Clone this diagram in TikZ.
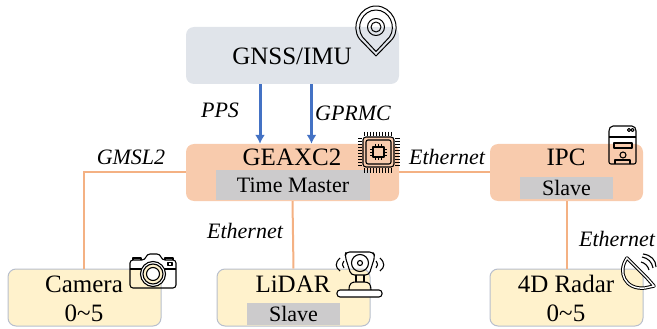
\documentclass[tikz,border=0pt]{standalone}
\usepackage{fontspec}
\setmainfont{Liberation Serif}
\usetikzlibrary{arrows.meta}
\definecolor{gnssfill}{HTML}{E0E4EA}
\definecolor{mainfill}{HTML}{F8CBAD}
\definecolor{sensorfill}{HTML}{FFF2CC}
\definecolor{sensorline}{HTML}{B8BFCC}
\definecolor{tagfill}{HTML}{CCCBCC}
\definecolor{linkline}{HTML}{F4B183}
\definecolor{syncline}{HTML}{4472C4}
\tikzset{
	box/.style={rounded corners=8pt, minimum width=#1, minimum height=57pt, inner sep=0pt},
	gnssbox/.style={box=213pt, fill=gnssfill},
	mainbox/.style={box=#1, fill=mainfill},
	sensorbox/.style={box=153pt, fill=sensorfill, draw=sensorline, line width=1pt},
	tagbox/.style={fill=tagfill, inner sep=0pt, font=\fontsize{22}{26}\selectfont},
	title/.style={inner sep=0pt, font=\fontsize{25}{30}\selectfont},
	busname/.style={inner sep=0pt, font=\fontsize{22}{26}\selectfont\itshape},
	link/.style={draw=linkline, line width=2pt},
	sync/.style={draw=syncline, line width=3pt, -{Latex[width=10pt,length=9pt]}},
	icon/.style={draw=black, line width=1.1pt, line join=round}
}
\begin{document}
\begin{tikzpicture}[x=1pt, y=-1pt]
	%%%%% START %%%%%
	\useasboundingbox (0, 0) rectangle (657, 329);

	\coordinate (camcorner) at (84, 172);

	\node[gnssbox] (gnss) at (292.5, 55.5) {};
	\node[mainbox=213pt] (geaxc) at (292.5, 172.5) {};
	\node[mainbox=153pt] (ipc) at (566.5, 172.5) {};
	\node[sensorbox] (camera) at (84.5, 297.5) {};
	\node[sensorbox] (lidar) at (293.5, 297.5) {};
	\node[sensorbox] (radar) at (566.5, 297.5) {};

	\node[tagbox, minimum width=154pt, minimum height=30pt] (master) at (293, 185) {Time Master};
	\node[tagbox, minimum width=93pt, minimum height=22pt] (ipcslave) at (566.5, 188) {Slave};
	\node[tagbox, minimum width=93pt, minimum height=22pt] (lidarslave) at (293.5, 314) {Slave};

	\node[title] (gnsstext) at (292, 56) {GNSS/IMU};
	\node[title] (geaxctext) at (292, 157) {GEAXC2};
	\node[title] (ipctext) at (566, 157) {IPC};
	\node[title] (cameratext) at (84, 284) {Camera};
	\node[title] (cameranum) at (84, 313) {0\textasciitilde5};
	\node[title] (lidartext) at (293, 284) {LiDAR};
	\node[title] (radartext) at (566, 284) {4D Radar};
	\node[title] (radarnum) at (566, 313) {0\textasciitilde5};

	% connectors
	\draw[link] (camera.north -| camcorner) -- (camcorner) -- (geaxc.west |- camcorner);
	\draw[link] (geaxc.east |- camcorner) -- (ipc.west |- camcorner);
	\draw[link] (geaxc.south) -- (lidar.north);
	\draw[link] (ipc.south) -- (radar.north);
	\draw[sync] ([xshift=-32.5pt]gnss.south) -- ([xshift=-32.5pt]geaxc.north);
	\draw[sync] ([xshift=19pt]gnss.south) -- ([xshift=19pt]geaxc.north);

	\node[busname] (pps) at (220, 110) {PPS};
	\node[busname] (gprmc) at (353, 113) {GPRMC};
	\node[busname] (gmsl) at (131, 157) {GMSL2};
	\node[busname] (ethmain) at (447, 157) {Ethernet};
	\node[busname] (ethlidar) at (245, 231) {Ethernet};
	\node[busname] (ethradar) at (617, 239) {Ethernet};

	% pin on the gnss box
	\draw[icon, line width=1pt] (376, 56) -- (359.5, 39) .. controls (350, 26) and (360, 6) .. (376, 6) .. controls (392, 6) and (402, 26) .. (392.5, 39) -- cycle;
	\draw[icon, line width=1pt] (376, 51.5) -- (362.5, 37) .. controls (355, 26) and (363, 10) .. (376, 10) .. controls (389, 10) and (397, 26) .. (389.5, 37) -- cycle;
	\draw[icon, line width=1pt] (376, 27) circle (8.5);
	\draw[icon, line width=1pt] (376, 27) circle (5);

	% chip on the geaxc box
	\draw[icon, fill=mainfill, rounded corners=3pt] (363, 137) rectangle (394, 167);
	\draw[icon, rounded corners=2pt] (366, 140) rectangle (391, 164);
	\draw[icon, fill=mainfill] (373, 147) rectangle (384, 157);
	\foreach \pos in {0, 1, ..., 9} {
		\draw[icon, line width=0.8pt] ({364.5+\pos*3}, 132) -- ({364.5+\pos*3}, 136);
		\draw[icon, line width=0.8pt] ({364.5+\pos*3}, 168) -- ({364.5+\pos*3}, 172.5);
		\draw[icon, line width=0.8pt] (358, {138.5+\pos*3}) -- (362, {138.5+\pos*3});
		\draw[icon, line width=0.8pt] (395, {138.5+\pos*3}) -- (400, {138.5+\pos*3});
	}
	\foreach \pos in {0, 1, 2} {
		\draw[icon, line width=0.8pt] ({375.5+\pos*3}, 144) -- ({375.5+\pos*3}, 147);
		\draw[icon, line width=0.8pt] ({375.5+\pos*3}, 157) -- ({375.5+\pos*3}, 160);
		\draw[icon, line width=0.8pt] (370, {149+\pos*3}) -- (373, {149+\pos*3});
		\draw[icon, line width=0.8pt] (384, {149+\pos*3}) -- (387, {149+\pos*3});
	}

	% server on the ipc box
	\draw[icon, rounded corners=2pt] (609, 164) -- (609, 129) -- (611, 126) -- (634, 126) -- (636, 129) -- (636, 164) -- cycle;
	\draw[icon] (609, 137) -- (636, 137);
	\draw[icon] (629, 130) circle (1.6);
	\draw[icon] (632.5, 130) circle (1.6);
	\draw[icon] (614, 143) rectangle (632, 148);
	\draw[icon] (623, 155) circle (3);
	\draw[icon] (615, 164) -- (615, 160) -- (630, 160) -- (630, 164);

	% camera on its box
	\draw[icon, rounded corners=3pt] (130, 288) -- (130, 260) -- (145, 260) -- (147, 254) -- (160, 254) -- (162, 260) -- (176, 260) -- (176, 288) -- cycle;
	\draw[icon] (130, 269) -- (176, 269);
	\draw[icon] (133, 260) -- (133, 258) -- (141, 258) -- (141, 260);
	\draw[icon] (165, 260) -- (165, 258) -- (173, 258) -- (173, 260);
	\draw[icon] (168, 262.5) rectangle (172, 265.5);
	\draw[icon, fill=white] (153, 274) circle (12.5);
	\draw[icon, fill=sensorfill] (153, 274) circle (10);
	\draw[icon, fill=white] (153, 274) circle (6.5);

	% scanner on the lidar box
	\draw[icon, rounded corners=3.5pt] (346, 252) -- (373, 252) -- (375, 256) -- (369, 275) -- (351, 275) -- (345, 256) -- cycle;
	\draw[icon] (360, 263) circle (8.5);
	\draw[icon] (360, 263) circle (2.5);
	\draw[icon] (356, 275) -- (356, 282);
	\draw[icon] (364, 275) -- (364, 282);
	\draw[icon] (349, 290) .. controls (349, 283) and (352, 282) .. (356, 282) -- (364, 282) .. controls (369, 282) and (371, 284) .. (371, 290);
	\draw[icon, fill=white, rounded corners=3pt] (337, 290) rectangle (382, 297);
	\draw[icon] (340, 258) .. controls (335, 263) and (335, 267) .. (340, 271);
	\draw[icon] (344, 261) .. controls (342, 264) and (342, 266) .. (344, 268);
	\draw[icon] (380, 258) .. controls (385, 263) and (385, 267) .. (380, 271);
	\draw[icon] (376, 261) .. controls (378, 264) and (378, 266) .. (376, 268);

	% dish on the radar box
	\draw[icon, line width=3.4pt] (627, 258) .. controls (617, 272) and (625, 290) .. (645, 288) -- (654, 286) -- (647, 278) -- cycle;
	\draw[draw=white, line width=1.4pt] (627, 258) .. controls (617, 272) and (625, 290) .. (645, 288) -- (654, 286) -- (647, 278) -- cycle;
	\draw[icon] (641, 262) .. controls (645, 263) and (648, 266) .. (649, 270);
	\draw[icon] (642, 257) .. controls (648, 258) and (652, 262) .. (653, 268);
	\draw[icon] (643, 254) .. controls (651, 255) and (656, 260) .. (656, 267);
	%%%%% END %%%%%
\end{tikzpicture}
\end{document}
